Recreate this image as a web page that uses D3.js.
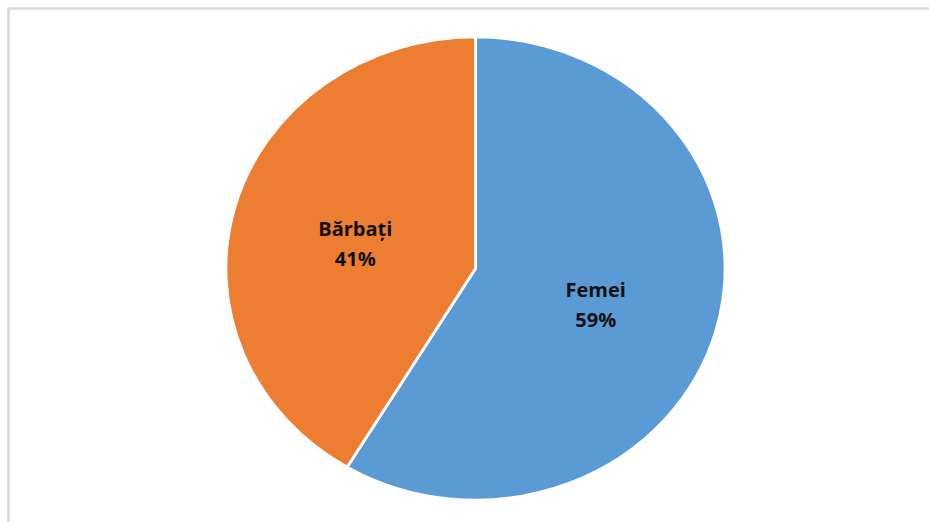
<!DOCTYPE html>
<html>
<head>
<meta charset="utf-8">
<script src="https://cdn.jsdelivr.net/npm/d3@7"></script>
<style>
html,body{margin:0;padding:0;background:#fff;}
svg{display:block;}
</style>
</head>
<body>
<svg id="chart" width="929" height="522"></svg>
<script>
const categories = ["Femei", "Bărbați"];
const values = [58.6, 41.4];
const labels = ["59%", "41%"];
const colors = ["#5B9BD5", "#ED7D31"];

const svg = d3.select("#chart");
svg.append("rect")
  .attr("x", 8.5).attr("y", 8.5)
  .attr("width", 1000).attr("height", 1000)
  .attr("fill", "#fff")
  .attr("stroke", "#d9d9d9")
  .attr("stroke-width", 2.6);

const cx = 475.5, cy = 268.5, r = 231.5, sx = 249 / 231;

const data = categories.map((c, i) => ({name: c, value: values[i], label: labels[i], color: colors[i]}));
const pie = d3.pie().value(d => d.value).sort(null);
const arc = d3.arc().innerRadius(0).outerRadius(r);
const arcs = pie(data);

const g = svg.append("g").attr("transform", `translate(${cx},${cy}) scale(${sx},1)`);
g.selectAll("path").data(arcs).join("path")
  .attr("d", arc)
  .attr("fill", d => d.data.color)
  .attr("stroke", "#fff")
  .attr("stroke-width", 2.6)
  .attr("stroke-linejoin", "round");

const tg = svg.append("g").attr("transform", `translate(${cx},${cy})`);
arcs.forEach(a => {
  const [x, y] = arc.centroid(a);
  const t = tg.append("text")
    .attr("x", x * sx)
    .attr("y", y)
    .attr("text-anchor", "middle")
    .attr("font-family", "'Open Sans', sans-serif")
    .attr("font-weight", "bold")
    .attr("font-size", 20)
    .attr("fill", "#111");
  t.append("tspan").attr("x", x * sx).attr("dy", "-0.1em").text(a.data.name);
  t.append("tspan").attr("x", x * sx).attr("dy", "1.5em").text(a.data.label);
});
</script>
</body>
</html>
